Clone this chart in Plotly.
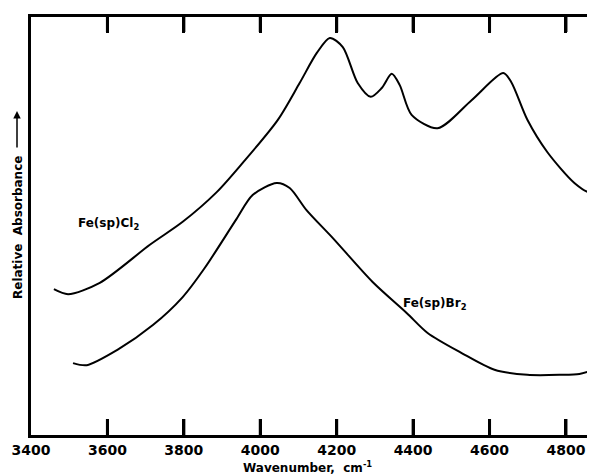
import plotly.graph_objects as go

# Fe(sp)Cl2 spectrum (wavenumber, relative absorbance)
cl_wn = [3460, 3497, 3580, 3711, 3797, 3886, 3954, 4046, 4103,
         4148, 4182, 4216, 4255, 4289, 4318, 4344, 4365, 4396, 4464, 4553, 4636,
         4657, 4699, 4751, 4822, 4861, 4872]
cl_abs = [34.9, 33.7, 36.4, 45.5, 51.0, 58.1, 65.1, 75.4, 84.2,
          91.4, 95.0, 92.8, 84.2, 80.9, 83.0, 86.4, 83.7, 76.6, 73.4, 80.1, 86.6,
          84.4, 75.4, 67.7, 60.3, 58.1, 58.6]

# Fe(sp)Br2 spectrum
br_wn = [3510, 3546, 3625, 3719, 3797, 3855, 3938, 3980, 4043, 4077, 4121,
         4190, 4294, 4383, 4438, 4527, 4613, 4699, 4788, 4835, 4856]
br_abs = [17.2, 16.7, 20.3, 26.3, 33.0, 40.0, 51.7, 57.4, 60.3, 59.1, 53.8,
          47.1, 36.6, 29.2, 24.4, 19.6, 15.6, 14.4, 14.4, 14.6, 15.1]

x_ticks = [3400, 3600, 3800, 4000, 4200, 4400, 4600, 4800]

fig = go.Figure()
fig.add_trace(go.Scatter(x=cl_wn, y=cl_abs, mode="lines",
                         line=dict(color="black", width=2, shape="spline", smoothing=0.8),
                         name="Fe(sp)Cl2", showlegend=False))
fig.add_trace(go.Scatter(x=br_wn, y=br_abs, mode="lines",
                         line=dict(color="black", width=2, shape="spline", smoothing=0.8),
                         name="Fe(sp)Br2", showlegend=False))

# The page body has an 8px default margin; the figure is sized to fit inside.
OFF = 8
W, H = 595 - OFF, 474 - OFF
L, R, T, B = 31 - OFF, 0, 17 - OFF, 39
pw, ph = W - L - R, H - T - B

def px(x):
    return (x - OFF - L) / pw

def py(y):
    return (H - B - (y - OFF)) / ph

tick_font = dict(family="DejaVu Sans", size=14, color="black", weight="bold")
lab_font = dict(family="DejaVu Sans", size=12, color="black", weight="bold")

fig.update_layout(
    width=W, height=H,
    margin=dict(l=L, r=R, t=T, b=B, autoexpand=False),
    paper_bgcolor="white", plot_bgcolor="white",
    xaxis=dict(range=[3400, 4876], tickmode="array", tickvals=x_ticks,
               ticktext=[str(v) for v in x_ticks],
               ticks="inside", ticklen=16, tickwidth=3, tickcolor="black",
               showline=True, linewidth=3, linecolor="black", mirror="ticks",
               layer="above traces",
               showgrid=False, zeroline=False, tickfont=tick_font, automargin=False),
    yaxis=dict(range=[0, 100], showticklabels=False, ticks="",
               showline=True, linewidth=3, linecolor="black",
               showgrid=False, zeroline=False, automargin=False),
)

# Explicit inside tick marks at bottom and top, placed on the x scale
for v in x_ticks[1:]:
    fig.add_shape(type="line", xref="x", yref="y domain", x0=v, x1=v,
                  y0=0, y1=16 / ph, line=dict(color="black", width=3))
    fig.add_shape(type="line", xref="x", yref="y domain", x0=v, x1=v,
                  y0=1 - 15 / ph, y1=1, line=dict(color="black", width=3))

common = dict(xref="paper", yref="paper", xanchor="center", yanchor="middle",
              showarrow=False, font=lab_font)
fig.add_annotation(x=px(108), y=py(224), text="Fe(sp)Cl<sub>2</sub>", **common)
fig.add_annotation(x=px(435), y=py(304), text="Fe(sp)Br<sub>2</sub>", **common)
fig.add_annotation(x=px(307), y=py(467), text="Wavenumber,  cm<sup>-1</sup>", **common)
fig.add_annotation(x=px(18), y=py(228), text="Relative  Absorbance", textangle=-90, **common)
fig.add_annotation(xref="paper", yref="paper", x=px(17), y=py(111),
                   ax=0, ay=38, axref="pixel", ayref="pixel",
                   text="", showarrow=True, arrowhead=2, arrowsize=1, arrowwidth=1.5,
                   arrowcolor="black")

fig.write_html("out.html")
